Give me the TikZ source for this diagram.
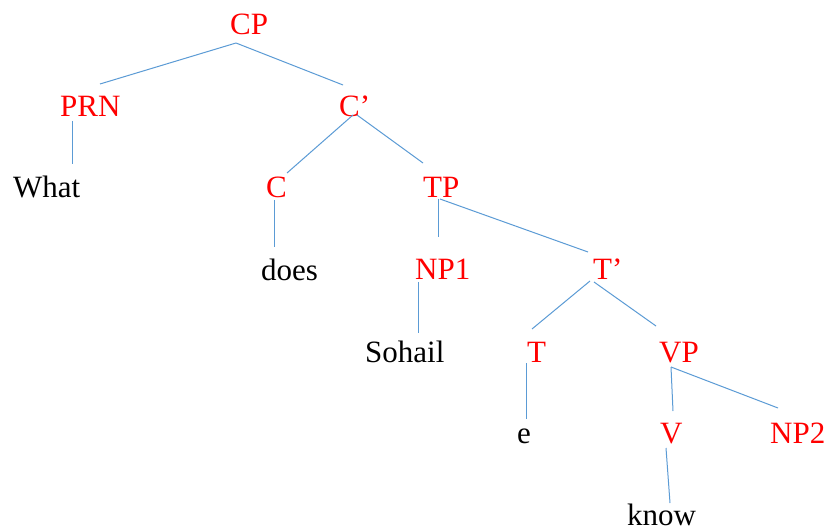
\documentclass[tikz,border=0pt]{standalone}
\usepackage{fontspec}
\setmainfont{Liberation Serif}
\definecolor{edgeblue}{RGB}{91,155,213}
\definecolor{catred}{RGB}{255,0,0}
\begin{document}
\begin{tikzpicture}[x=1pt,y=-1pt,
  lab/.style={anchor=base west,inner sep=0pt,font=\fontsize{31}{37}\selectfont},
  cat/.style={lab,text=catred},
  word/.style={lab,text=black},
  edge/.style={draw=edgeblue,line width=1pt}]
\useasboundingbox[fill=white] (0,0) rectangle (830,529);
% nodes
\node[cat]  (CP)  at (230,35)  {CP};
\node[cat]  (PRN) at (60,117)  {PRN};
\node[cat]  (Cb)  at (339,117) {C’};
\node[word] (what) at (13,198) {What};
\node[cat]  (C)   at (266,198) {C};
\node[cat]  (TP)  at (423,198) {TP};
\node[word] (does) at (261,281) {does};
\node[cat]  (NPa) at (415,280) {NP1};
\node[cat]  (Tb)  at (593,280) {T’};
\node[word] (soh) at (365,362) {Sohail};
\node[cat]  (T)   at (527,362) {T};
\node[cat]  (VP)  at (659,362) {VP};
\node[word] (e)   at (517,443) {e};
\node[cat]  (V)   at (660,443) {V};
\node[cat]  (NPb) at (770,443) {NP2};
\node[word] (know) at (627,525) {know};
% edges
\draw[edge] ([shift={(6,8)}]CP.base west) -- ([shift={(40,-33)}]PRN.base west);
\draw[edge] ([shift={(6,8)}]CP.base west) -- ([shift={(4,-32)}]Cb.base west);
\draw[edge] ([shift={(12,4)}]PRN.base west) -- ([shift={(59,-34)}]what.base west);
\draw[edge] ([shift={(14,-2)}]Cb.base west) -- ([shift={(21,-25)}]C.base west);
\draw[edge] ([shift={(18,-2)}]Cb.base west) -- ([shift={(0,-35)}]TP.base west);
\draw[edge] ([shift={(8,2)}]C.base west) -- ([shift={(13,-34)}]does.base west);
\draw[edge] ([shift={(15,1)}]TP.base west) -- ([shift={(23,-43)}]NPa.base west);
\draw[edge] ([shift={(17,1)}]TP.base west) -- ([shift={(-5,-28)}]Tb.base west);
\draw[edge] ([shift={(3,2)}]NPa.base west) -- ([shift={(53,-29)}]soh.base west);
\draw[edge] ([shift={(-3,1)}]Tb.base west) -- ([shift={(5,-33)}]T.base west);
\draw[edge] ([shift={(1,2)}]Tb.base west) -- ([shift={(-3,-36)}]VP.base west);
\draw[edge] ([shift={(-1,1)}]T.base west) -- ([shift={(9,-24)}]e.base west);
\draw[edge] ([shift={(12,5)}]VP.base west) -- ([shift={(13,-32)}]V.base west);
\draw[edge] ([shift={(12,5)}]VP.base west) -- ([shift={(8,-35)}]NPb.base west);
\draw[edge] ([shift={(6,5)}]V.base west) -- ([shift={(43,-22)}]know.base west);
\end{tikzpicture}
\end{document}
